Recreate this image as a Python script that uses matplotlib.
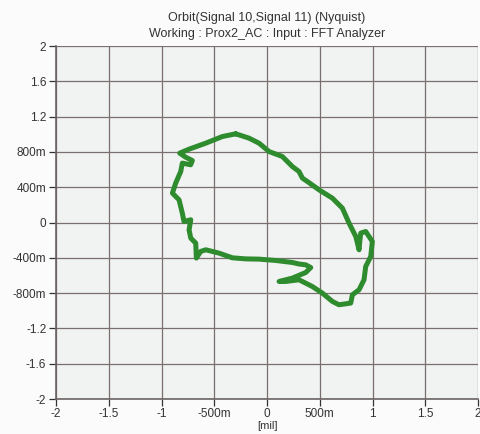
import matplotlib.pyplot as plt
import numpy as np

plt.rcParams['font.family'] = ['Liberation Sans', 'DejaVu Sans']

# orbit trace [mil]
orbit_x = [-0.297, -0.171, -0.076, 0.019, 0.145, 0.240, 0.303, 0.335, 0.382, 0.493,
           0.619, 0.714, 0.777, 0.841, 0.872, 0.880, 0.888, 0.935, 0.998, 0.983,
           0.935, 0.919, 0.872, 0.809, 0.793, 0.682, 0.619, 0.524, 0.429, 0.303,
           0.177, 0.114, 0.240, 0.367, 0.414, 0.367, 0.303, 0.240, 0.082,
           -0.076, -0.202, -0.329, -0.455, -0.581, -0.629, -0.670, -0.676, -0.723, -0.739,
           -0.723, -0.787, -0.803, -0.834, -0.897, -0.866, -0.818, -0.803, -0.724, -0.708,
           -0.771, -0.828, -0.739, -0.581, -0.424, -0.297]
orbit_y = [1.005, 0.956, 0.899, 0.804, 0.748, 0.634, 0.578, 0.503, 0.465, 0.370,
           0.276, 0.163, -0.007, -0.158, -0.309, -0.200, -0.120, -0.102, -0.215, -0.385,
           -0.498, -0.649, -0.762, -0.819, -0.913, -0.932, -0.894, -0.800, -0.725, -0.649,
           -0.668, -0.668, -0.630, -0.566, -0.510, -0.480, -0.470, -0.453, -0.430,
           -0.415, -0.412, -0.400, -0.347, -0.309, -0.328, -0.403, -0.233, -0.177, -0.083,
           0.031, 0.011, 0.106, 0.257, 0.333, 0.446, 0.578, 0.673, 0.654, 0.702,
           0.740, 0.786, 0.831, 0.899, 0.974, 1.005]

x_ticks = [-2, -1.5, -1, -0.5, 0, 0.5, 1, 1.5, 2]
x_labels = ['-2', '-1.5', '-1', '-500m', '0', '500m', '1', '1.5', '2']
y_ticks = [2, 1.6, 1.2, 0.8, 0.4, 0, -0.4, -0.8, -1.2, -1.6, -2]
y_labels = ['2', '1.6', '1.2', '800m', '400m', '0', '-400m', '-800m', '-1.2', '-1.6', '-2']

fig = plt.figure(figsize=(4.8, 4.34), dpi=100)
fig.patch.set_facecolor('#fbfbfb')
ax = fig.add_axes([0.1167, 0.0806, 0.8793, 0.8134])
ax.set_facecolor('#f1f2f2')

ax.plot(orbit_x, orbit_y, color='#2e8b2e', lw=3.6, solid_joinstyle='round',
        solid_capstyle='round', zorder=3)

ax.set_xlim(-2, 2)
ax.set_ylim(-2, 2)
ax.set_xticks(x_ticks)
ax.set_xticklabels(x_labels)
ax.set_yticks(y_ticks)
ax.set_yticklabels(y_labels)
ax.grid(True, color='#7a6e6e', lw=0.9)
ax.tick_params(labelsize=8.5, colors='#333333', length=5, width=0.9, pad=2)
ax.tick_params(axis='x', pad=1.5)

for s in ['top', 'right']:
    ax.spines[s].set_visible(False)
for s in ['left', 'bottom']:
    ax.spines[s].set_color('#6b6363')
    ax.spines[s].set_linewidth(1.2)

ax.set_xlabel('[mil]', fontsize=8, labelpad=0.5, color='#333333')
fig.text(0.556, 0.952, 'Orbit(Signal 10,Signal 11) (Nyquist)', ha='center', fontsize=9, color='#333333')
fig.text(0.556, 0.914, 'Working : Prox2_AC : Input : FFT Analyzer', ha='center', fontsize=9, color='#333333')

fig.savefig('out.png', dpi=100, facecolor=fig.get_facecolor())
